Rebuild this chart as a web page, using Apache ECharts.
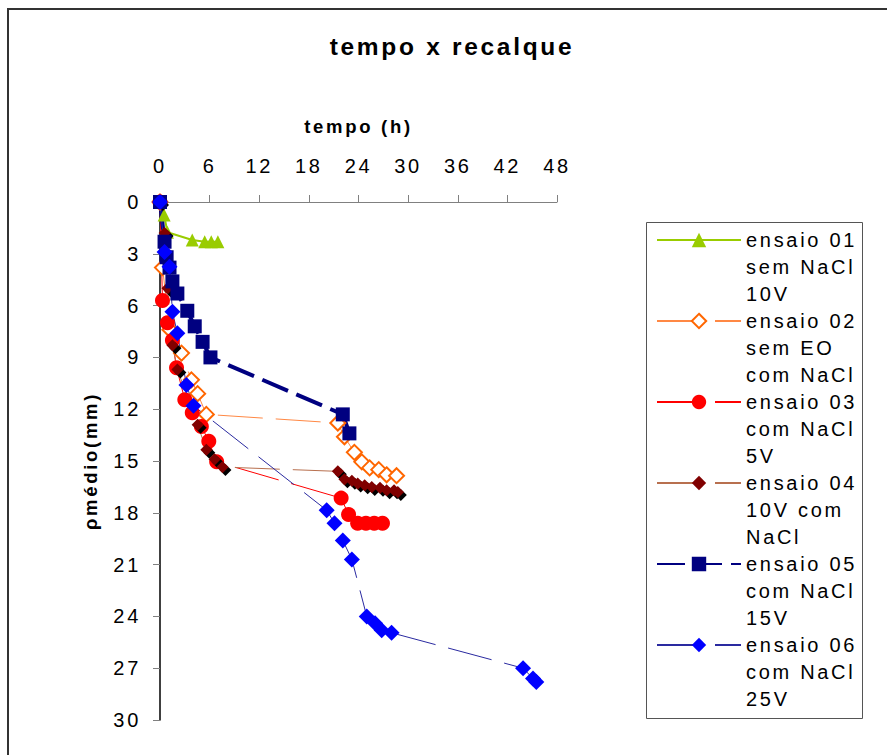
<!DOCTYPE html>
<html><head><meta charset="utf-8">
<script src="https://cdn.jsdelivr.net/npm/echarts@6/dist/echarts.min.js"></script>
<style>html,body{margin:0;padding:0;background:#fff}#c{width:887px;height:755px;letter-spacing:2.7px}</style>
</head><body><div id="c"></div><script>
// tick labels
const xTicks = [0, 6, 12, 18, 24, 30, 36, 42, 48];
const yTicks = [0, 3, 6, 9, 12, 15, 18, 21, 24, 27, 30];

// series names
const names = [
  'ensaio 01\nsem NaCl\n10V',
  'ensaio 02\nsem EO\ncom NaCl',
  'ensaio 03\ncom NaCl\n5V',
  'ensaio 04\n10V com\nNaCl',
  'ensaio 05\ncom NaCl\n15V',
  'ensaio 06\ncom NaCl\n25V'
];

// tempo (h) / recalque (mm)
const e01h = [0, 0.5, 0.9, 3.9, 5.4, 6.2, 7.0];
const e01r = [0, 0.75, 1.75, 2.2, 2.3, 2.3, 2.3];

const e02h = [0, 0.3, 1.2, 2.6, 3.8, 4.55, 5.6, 21.5, 22.3, 23.5, 24.4, 25.35, 26.45, 27.4, 28.6];
const e02r = [0, 3.8, 7.4, 8.75, 10.3, 11.1, 12.3, 12.8, 13.6, 14.5, 15.05, 15.4, 15.5, 15.8, 15.85];

const e03h = [0, 0.3, 0.9, 1.5, 2.0, 3.0, 3.9, 5.0, 5.9, 6.85, 21.9, 22.8, 23.9, 24.9, 25.9, 26.9];
const e03r = [0, 5.7, 7.0, 8.0, 9.6, 11.45, 12.2, 13.0, 13.85, 15.05, 17.15, 18.1, 18.6, 18.6, 18.6, 18.6];

const e04h = [0, 0.55, 0.9, 1.5, 2.1, 4.55, 5.6, 6.6, 7.55, 21.5, 22.3, 23.2, 23.9, 24.75, 25.6, 26.6, 27.4, 28.3, 28.75];
const e04r = [0, 1.8, 5.0, 8.3, 9.7, 12.9, 14.35, 14.9, 15.35, 15.6, 16.05, 16.15, 16.3, 16.4, 16.5, 16.55, 16.7, 16.7, 16.8];

const e05h = [0, 0.55, 0.8, 1.15, 1.5, 2.1, 3.3, 4.2, 5.15, 6.1, 22.1, 22.9];
const e05r = [0, 2.3, 3.2, 3.8, 4.6, 5.3, 6.3, 7.2, 8.1, 9.0, 12.3, 13.4];

const e06h = [0, 0.55, 1.15, 1.5, 2.1, 3.2, 4.05, 20.15, 21.1, 22.1, 23.2, 25.0, 26.0, 26.8, 28.0, 43.9, 45.1, 45.5];
const e06r = [0, 2.9, 3.75, 6.35, 7.6, 10.6, 11.8, 17.85, 18.6, 19.6, 20.7, 24.0, 24.4, 24.8, 24.95, 27.0, 27.6, 27.8];

const pairs = (h, r) => h.map((v, i) => [v, r[i]]);
const FONT = '"Liberation Sans", Arial, sans-serif';
const longDash = [45, 13];

const chart = echarts.init(document.getElementById('c'), null, {renderer: 'svg'});
chart.setOption({
  animation: false,
  backgroundColor: '#fff',
  title: {
    text: 'tempo x recalque', left: 452, top: 34, padding: 0, textAlign: 'center',
    textStyle: {fontFamily: FONT, fontSize: 24.5, fontWeight: 'bold', color: '#000'}
  },
  grid: {left: 160, top: 202, width: 397, height: 518, containLabel: false},
  xAxis: {
    type: 'value', position: 'top',
    min: xTicks[0], max: xTicks[xTicks.length - 1], interval: xTicks[1] - xTicks[0],
    name: 'tempo (h)', nameLocation: 'middle', nameGap: 66,
    nameTextStyle: {fontFamily: FONT, fontSize: 18.5, fontWeight: 'bold', color: '#000'},
    axisLine: {show: true, lineStyle: {color: '#808080', width: 1}},
    axisTick: {show: true, length: 7, lineStyle: {color: '#808080'}},
    axisLabel: {margin: 26, fontFamily: FONT, fontSize: 20, color: '#000'},
    splitLine: {show: false}
  },
  yAxis: {
    type: 'value', inverse: true,
    min: yTicks[0], max: yTicks[yTicks.length - 1], interval: yTicks[1] - yTicks[0],
    name: 'ρmédio(mm)', nameLocation: 'middle', nameGap: 60,
    nameTextStyle: {fontFamily: FONT, fontSize: 18.5, fontWeight: 'bold', color: '#000'},
    axisLine: {show: true, onZero: false, lineStyle: {color: '#000', width: 1.5}},
    axisTick: {show: true, length: 7, lineStyle: {color: '#808080'}},
    axisLabel: {margin: 19, fontFamily: FONT, fontSize: 20, color: '#000'},
    splitLine: {show: false}
  },
  legend: {
    orient: 'vertical', left: 656, top: 172.5, padding: 0,
    itemWidth: 84, itemHeight: 18, itemGap: -54, selectedMode: false,
    formatter: (n) => '\n\n' + n,
    textStyle: {fontFamily: FONT, fontSize: 20, lineHeight: 27, color: '#000'},
    data: names
  },
  graphic: [
    {type: 'rect', shape: {x: 8, y: 9, width: 1000, height: 1000}, style: {fill: 'none', stroke: '#333', lineWidth: 2}, silent: true},
    {type: 'rect', shape: {x: 646.5, y: 222.5, width: 216, height: 496}, style: {fill: 'none', stroke: '#555', lineWidth: 1}, silent: true}
  ],
  series: [
    {name: names[0], type: 'line', data: pairs(e01h, e01r), symbol: 'triangle', symbolSize: 13,
     itemStyle: {color: '#99cc00'}, lineStyle: {color: '#99cc00', width: 2}},
    {name: names[1], type: 'line', data: pairs(e02h, e02r), symbol: 'diamond', symbolSize: 15,
     itemStyle: {color: '#fff', borderColor: '#ff6600', borderWidth: 2},
     lineStyle: {color: '#ff8844', width: 1, type: longDash}},
    {name: names[2], type: 'line', data: pairs(e03h, e03r), symbol: 'circle', symbolSize: 15,
     itemStyle: {color: '#ff0000'}, lineStyle: {color: '#ff0000', width: 1, type: longDash}},
    {name: names[3], type: 'line', data: pairs(e04h, e04r), symbol: 'diamond', symbolSize: 12,
     itemStyle: {color: '#800000', shadowColor: '#000', shadowOffsetX: 3, shadowOffsetY: 3, shadowBlur: 0},
     lineStyle: {color: '#b8704f', width: 1, type: longDash}},
    {name: names[4], type: 'line', data: pairs(e05h, e05r), symbol: 'rect', symbolSize: 14,
     itemStyle: {color: '#000080'}, lineStyle: {color: '#000080', width: 4, type: [28, 9]}},
    {name: names[5], type: 'line', data: pairs(e06h, e06r), symbol: 'diamond', symbolSize: 16,
     itemStyle: {color: '#0000ff'}, lineStyle: {color: '#2a2aa0', width: 1, type: longDash}}
  ]
});
</script></body></html>
